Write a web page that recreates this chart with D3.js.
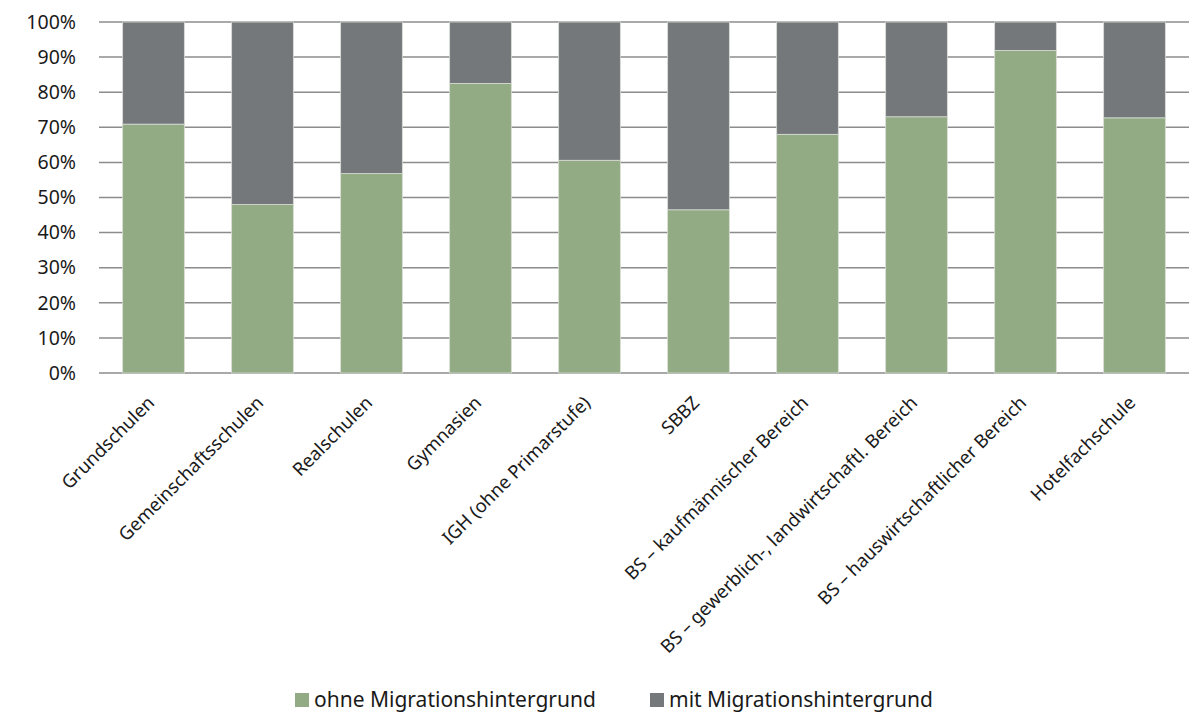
<!DOCTYPE html>
<html>
<head>
<meta charset="utf-8">
<style>
  body { margin: 0; background: #fff; }
  svg { font-family: "Noto Sans", "Open Sans", sans-serif; }
</style>
</head>
<body>
<svg width="1189" height="714"></svg>
<script src="https://cdn.jsdelivr.net/npm/d3@7/dist/d3.min.js"></script>
<script>
var categories = [
  "Grundschulen",
  "Gemeinschaftsschulen",
  "Realschulen",
  "Gymnasien",
  "IGH (ohne Primarstufe)",
  "SBBZ",
  "BS – kaufmännischer Bereich",
  "BS – gewerblich-, landwirtschaftl. Bereich",
  "BS – hauswirtschaftlicher Bereich",
  "Hotelfachschule"
];
var ohneMigration = [70.9, 48.0, 56.8, 82.5, 60.6, 46.5, 68.0, 73.0, 91.9, 72.7];
var mitMigration = ohneMigration.map(function(v) { return 100 - v; });
var seriesNames = ["ohne Migrationshintergrund", "mit Migrationshintergrund"];
var seriesColors = ["#92ab84", "#75787b"];
var yTicks = [0, 10, 20, 30, 40, 50, 60, 70, 80, 90, 100];

var svg = d3.select("svg"),
    margin = {top: 22, right: 0, bottom: 341, left: 99},
    width = +svg.attr("width") - margin.left - margin.right,
    height = +svg.attr("height") - margin.top - margin.bottom;

var rows = categories.map(function(c, i) {
  return {cat: c, ohne: ohneMigration[i], mit: mitMigration[i]};
});

var stack = d3.stack().keys(["ohne", "mit"]);
var layers = stack(rows);

var x = d3.scaleBand()
    .domain(categories)
    .range([0, width])
    .paddingInner(0.434)
    .paddingOuter(0.217);

var y = d3.scaleLinear()
    .domain([0, 100])
    .range([height, 0]);

var g = svg.append("g")
    .attr("transform", "translate(" + margin.left + "," + margin.top + ")");

// grid
g.append("g")
    .selectAll("line")
    .data(yTicks)
  .enter().append("line")
    .attr("x1", 0)
    .attr("x2", width)
    .attr("y1", function(d) { return y(d); })
    .attr("y2", function(d) { return y(d); })
    .attr("stroke", "#8c8c8c")
    .attr("stroke-width", 1.5);

// bars
g.selectAll(".layer")
    .data(layers)
  .enter().append("g")
    .attr("class", "layer")
    .attr("fill", function(d, i) { return seriesColors[i]; })
  .selectAll("rect")
    .data(function(d) { return d; })
  .enter().append("rect")
    .attr("x", function(d) { return x(d.data.cat); })
    .attr("y", function(d) { return y(d[1]); })
    .attr("width", x.bandwidth())
    .attr("height", function(d) { return y(d[0]) - y(d[1]); })
    .attr("stroke", "#d8ddd5")
    .attr("stroke-width", 0.8);

// y axis
var yAxis = g.append("g")
    .call(d3.axisLeft(y).tickValues(yTicks).tickFormat(function(d) { return d + "%"; }).tickSize(0).tickPadding(23));
yAxis.select(".domain").remove();
yAxis.selectAll("text")
    .attr("font-size", 19.5)
    .attr("font-family", "Noto Sans, Open Sans, sans-serif")
    .attr("fill", "#1a1a1a");

// x labels
g.append("g")
    .selectAll("text")
    .data(categories)
  .enter().append("text")
    .attr("transform", function(d) {
      return "translate(" + (x(d) + x.bandwidth() / 2 + 2) + "," + (height + 31) + ") rotate(-45)";
    })
    .attr("text-anchor", "end")
    .attr("font-size", 18.4)
    .attr("fill", "#1a1a1a")
    .text(function(d) { return d; });

// legend
var legendX = [295, 650];
var legend = svg.append("g")
    .selectAll("g")
    .data(seriesNames)
  .enter().append("g")
    .attr("transform", function(d, i) { return "translate(" + legendX[i] + ",693)"; });
legend.append("rect")
    .attr("width", 14)
    .attr("height", 14)
    .attr("fill", function(d, i) { return seriesColors[i]; });
legend.append("text")
    .attr("x", 19)
    .attr("y", 14)
    .attr("font-size", 21)
    .attr("fill", "#1a1a1a")
    .text(function(d) { return d; });
</script>
</body>
</html>
